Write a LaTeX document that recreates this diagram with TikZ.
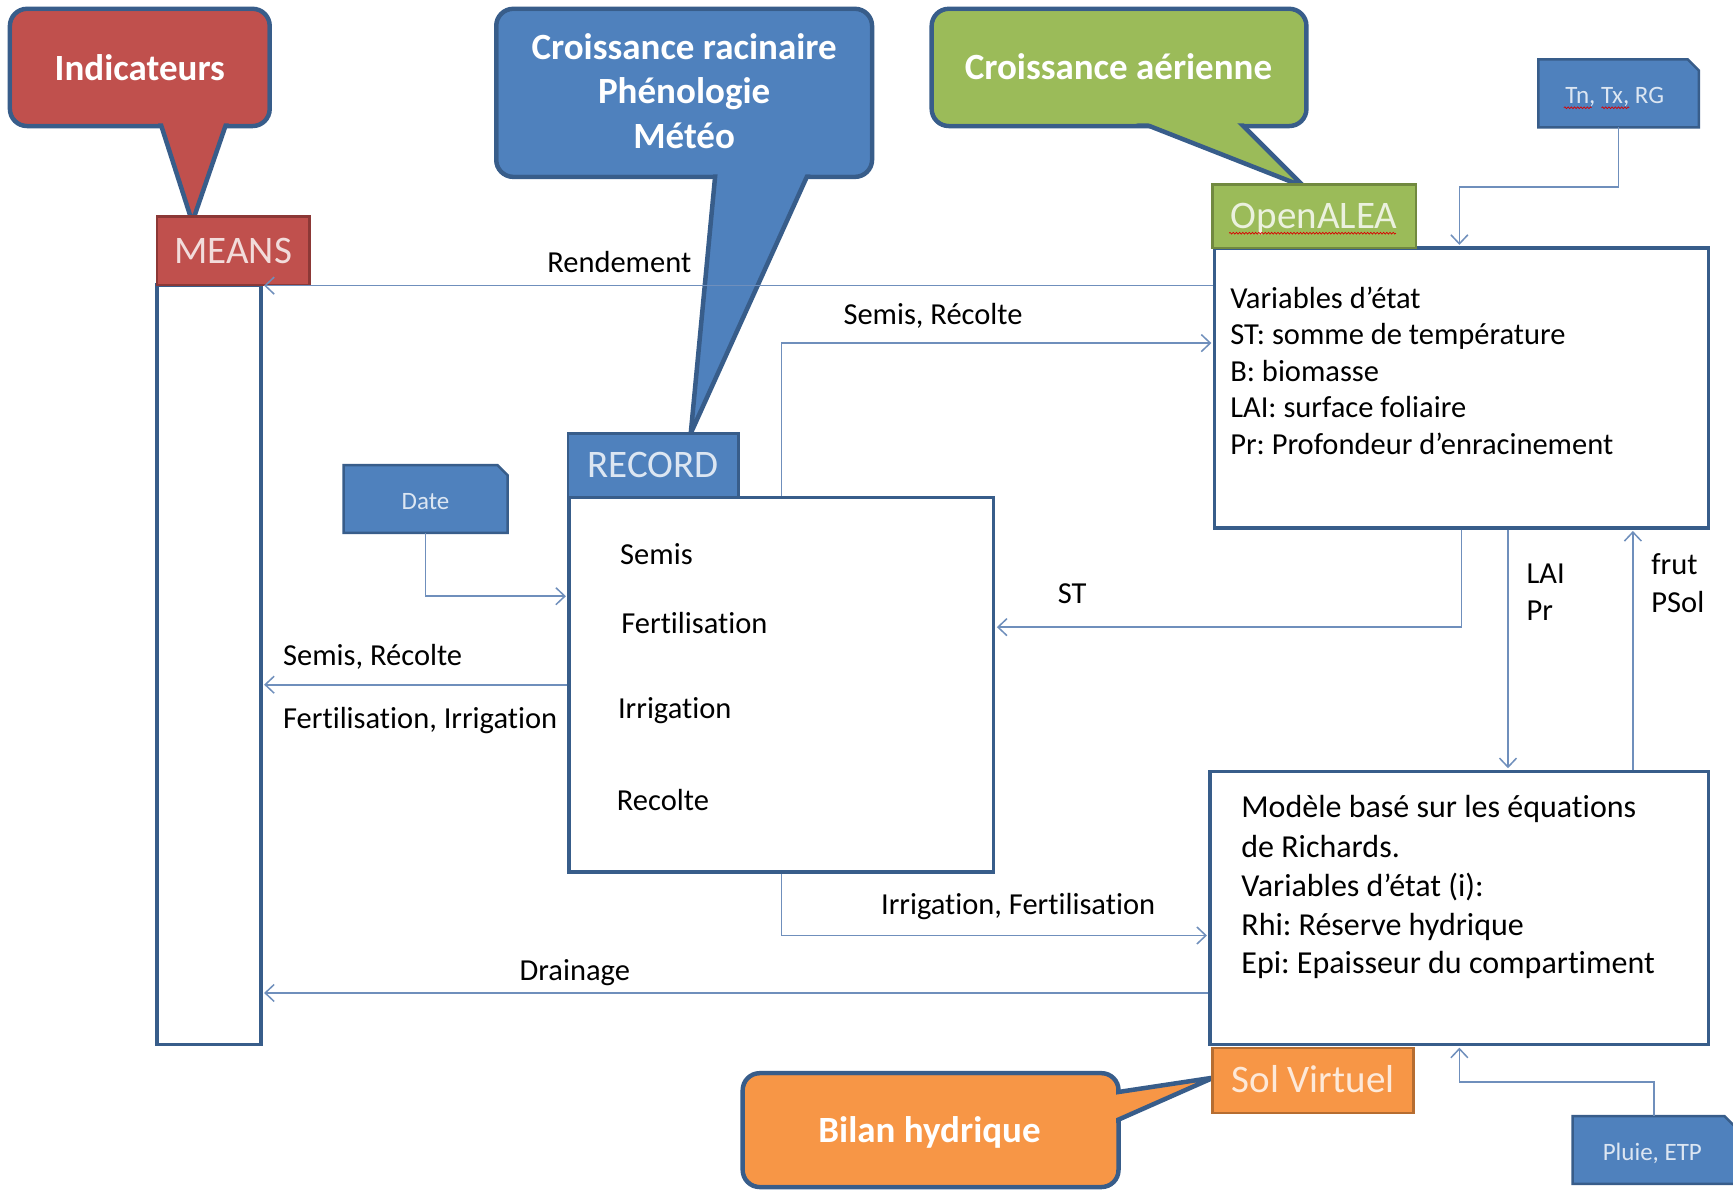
\documentclass[tikz,border=0pt]{standalone}
\usepackage{fontspec}
\setmainfont{Carlito}[Ligatures=NoCommon]
\usetikzlibrary{arrows.meta,calc,fit,decorations.pathmorphing}
\frenchspacing
\definecolor{cred}{HTML}{C0504D}
\definecolor{cblue}{HTML}{4F81BD}
\definecolor{cgreen}{HTML}{9BBB59}
\definecolor{corange}{HTML}{F79646}
\definecolor{dblue}{HTML}{385D8A}
\definecolor{dred}{HTML}{8C3836}
\definecolor{dgreen}{HTML}{71893F}
\definecolor{dorange}{HTML}{B66D31}
\definecolor{conncol}{HTML}{6F8FBC}
\definecolor{tred}{HTML}{F2DCDB}
\definecolor{tblue}{HTML}{DCE6F2}
\definecolor{tgreen}{HTML}{EBF1DE}
\definecolor{torange}{HTML}{FDE9D9}
\newcommand\mybubble[6]{%
  \fill[#1, rounded corners=17pt] #2 rectangle #3;
  \draw[cobord, rounded corners=17pt] #2 rectangle #3;
  \fill[#1] ($#6!1.2!#4$) -- #6 -- ($#6!1.2!#5$) -- cycle;
  \draw[cobord] ($#6!1.2!#4$) -- #6 -- ($#6!1.2!#5$);
  \fill[#1, rounded corners=15pt] ($#2+(2.3,2.3)$) rectangle ($#3-(2.3,2.3)$);
}
\begin{document}
\frenchspacing
\begin{tikzpicture}[x=1.1052pt,y=-1.1052pt,
  cobord/.style={draw=dblue, line width=4.5pt, line join=miter},
  conn/.style={draw=conncol, line width=1.6pt, shorten >=1.5pt,
    -{Straight Barb[length=9pt,width=17pt,line width=1.5pt]}},
  fbox/.style={inner sep=0pt, draw=dblue, line width=3.5pt},
  hbox/.style={inner sep=0pt, line width=2.5pt},
  hdrtxt/.style={inner sep=0pt, font=\fontsize{39}{47}\selectfont, text height=25pt, text depth=0pt},
  cotxt/.style={inner sep=0pt, anchor=base, text=white, font=\bfseries\fontsize{37}{44}\selectfont},
  lbl/.style={inner sep=0pt, anchor=base west, font=\fontsize{30.5}{36}\selectfont},
  soltxt/.style={inner sep=0pt, anchor=base west, font=\fontsize{32}{38}\selectfont},
  smalltxt/.style={inner sep=0pt, anchor=base, text=tblue, font=\fontsize{25}{30}\selectfont},
  snip/.style={fill=cblue, draw=dblue, line width=2.5pt, line join=miter},
  squig/.style={draw=red!85!black, line width=0.7pt, decorate, decoration={snake, amplitude=0.9pt, segment length=3.2pt}}
]
\fill[white] (0,0) rectangle (1568,1076);
\useasboundingbox (0,0) rectangle (1568,1076);

% ---------- callouts ----------
\mybubble{cred}{(9,8)}{(244,114)}{(146,114)}{(204,114)}{(174,201)}
\node[cotxt] (tind) at (126.5,72.5) {Indicateurs};

\mybubble{cblue}{(449,8)}{(789,160)}{(647,160)}{(730,160)}{(625,392)}
\node[cotxt] (tcr1) at (619,54) {Croissance racinaire};
\node[cotxt] (tcr2) at (619,93.5) {Phénologie};
\node[cotxt] (tcr3) at (619,134) {Météo};

\mybubble{cgreen}{(843,8)}{(1182,114)}{(1040,114)}{(1125,114)}{(1180,169)}
\node[cotxt] (tcae) at (1012,71.5) {Croissance aérienne};

\mybubble{corange}{(672,971)}{(1012,1074)}{(1012,988)}{(1012,1013)}{(1098,975)}
\node[cotxt] (tbil) at (841,1034) {Bilan hydrique};

% ---------- MEANS ----------
\node[fbox, fill=white, fit={(142,258) (236,945)}] (meanscol) {};
\node[hbox, fill=cred, draw=dred, fit={(142,196) (280,258)}] (meanshdr) {};
\node[hdrtxt, text=tred] (meanst) at (meanshdr.center) {MEANS};

% ---------- RECORD ----------
\node[fbox, fit={(515,450) (899,789)}] (recbox) {};
\node[hbox, fill=cblue, draw=dblue, fit={(514,392) (668,450)}] (rechdr) {};
\node[hdrtxt, text=tblue] (rect) at (rechdr.center) {RECORD};
\node[lbl] (rs1) at (561,511) {Semis};
\node[lbl] (rs2) at (562,573) {Fertilisation};
\node[lbl] (rs3) at (559,650) {Irrigation};
\node[lbl] (rs4) at (558,733) {Recolte};

% ---------- OpenALEA ----------
\node[fbox, fit={(1099,224.5) (1546,477.5)}] (alea) {};
\node[hbox, fill=cgreen, draw=dgreen, fit={(1097,167) (1281,224.5)}] (aleahdr) {};
\node[hdrtxt, text=tgreen] (aleat) at (aleahdr.center) {OpenALEA};
\draw[squig] (1112,211) -- (1263,211);
\node[lbl] (a1) at (1113,279) {Variables d’état};
\node[lbl] (a2) at (1113,312) {ST: somme de température};
\node[lbl] (a3) at (1113,345) {B: biomasse};
\node[lbl] (a4) at (1113,378) {LAI: surface foliaire};
\node[lbl] (a5) at (1113,411) {Pr: Profondeur d’enracinement};

% ---------- Sol ----------
\node[fbox, fit={(1095,698) (1546,945)}] (sol) {};
\node[hbox, fill=corange, draw=dorange, fit={(1097,948) (1279,1007)}] (solhdr) {};
\node[hdrtxt, text=torange] (solt) at (solhdr.center) {Sol Virtuel};
\node[soltxt] (o1) at (1123,740) {Modèle basé sur les équations};
\node[soltxt] (o2) at (1123,775.5) {de Richards.};
\node[soltxt] (o3) at (1123,811) {Variables d’état (i):};
\node[soltxt] (o4) at (1123,846) {Rhi: Réserve hydrique};
\node[soltxt] (o5) at (1123,881) {Epi: Epaisseur du compartiment};

% ---------- small input boxes ----------
\node[inner sep=0pt, fit={(311,421) (459,482)}] (date) {};
\draw[snip] (date.south west) -- (date.north west) -- ($(date.north east)+(-9,0)$) -- ($(date.north east)+(0,9)$) -- (date.south east) -- cycle;
\node[smalltxt] (datet) at (385,461) {Date};

\node[inner sep=0pt, fit={(1392,54) (1537,115)}] (tn) {};
\draw[snip] (tn.south west) -- (tn.north west) -- ($(tn.north east)+(-10,0)$) -- ($(tn.north east)+(0,10)$) -- (tn.south east) -- cycle;
\node[smalltxt] (tnt) at (1461,94) {Tn, Tx, RG};
\draw[squig] (1415,97.5) -- (1440,97.5);
\draw[squig] (1449,97.5) -- (1474,97.5);

\node[inner sep=0pt, fit={(1423,1010) (1570,1071)}] (pluie) {};
\draw[snip] (pluie.south west) -- (pluie.north west) -- ($(pluie.north east)+(-10,0)$) -- ($(pluie.north east)+(0,10)$) -- (pluie.south east) -- cycle;
\node[smalltxt] (pluiet) at (1495,1050) {Pluie, ETP};

% ---------- connectors ----------
\coordinate (r1) at ($(alea.north west)+(0,35.5)$);
\draw[conn] (r1) -- (r1 -| meanscol.east);
\node[lbl] (lrend) at (495,247) {Rendement};

\coordinate (s1) at ($(alea.north west)+(0,87.5)$);
\draw[conn] (recbox.north) |- (s1);
\node[lbl] (lsr1) at (763,294) {Semis, Récolte};

\coordinate (st1) at ($(alea.south west)+(225,0)$);
\coordinate (st2) at ($(recbox.north east)+(0,119)$);
\draw[conn] (st1) |- (st2);
\node[lbl] (lst) at (957,546) {ST};

\coordinate (l1) at ($(alea.south west)+(267,0)$);
\draw[conn] (l1) -- (l1 |- sol.north);
\node[lbl] (llai) at (1381,528) {LAI};
\node[lbl] (lpr) at (1381,561) {Pr};

\coordinate (f1) at ($(sol.north west)+(384,0)$);
\draw[conn] (f1) -- (f1 |- alea.south);
\node[lbl] (lfrut) at (1494,520) {frut};
\node[lbl] (lpsol) at (1494,554) {PSol};

\draw[conn] (recbox.west) -- (recbox.west -| meanscol.east);
\node[lbl] (lsr2) at (256,602) {Semis, Récolte};
\node[lbl] (lfi) at (256,659) {Fertilisation, Irrigation};

\coordinate (i1) at ($(sol.north west)+(0,150)$);
\draw[conn] (recbox.south) |- (i1);
\node[lbl] (lif) at (797,827) {Irrigation, Fertilisation};

\coordinate (d1) at ($(sol.north west)+(0,202)$);
\draw[conn] (d1) -- (d1 -| meanscol.east);
\node[lbl] (ldr) at (470,887) {Drainage};

\coordinate (dt) at ($(recbox.north west)+(0,91)$);
\draw[conn] (date.south) |- (dt);

\coordinate (t1) at ($(alea.north west)+(223,0)$);
\draw[conn] (tn.south) -- ++(0,54) -| (t1);

\coordinate (p1) at ($(sol.south west)+(227,0)$);
\draw[conn] (pluie.north) -- ++(0,-31) -| (p1);
\end{tikzpicture}
\end{document}
